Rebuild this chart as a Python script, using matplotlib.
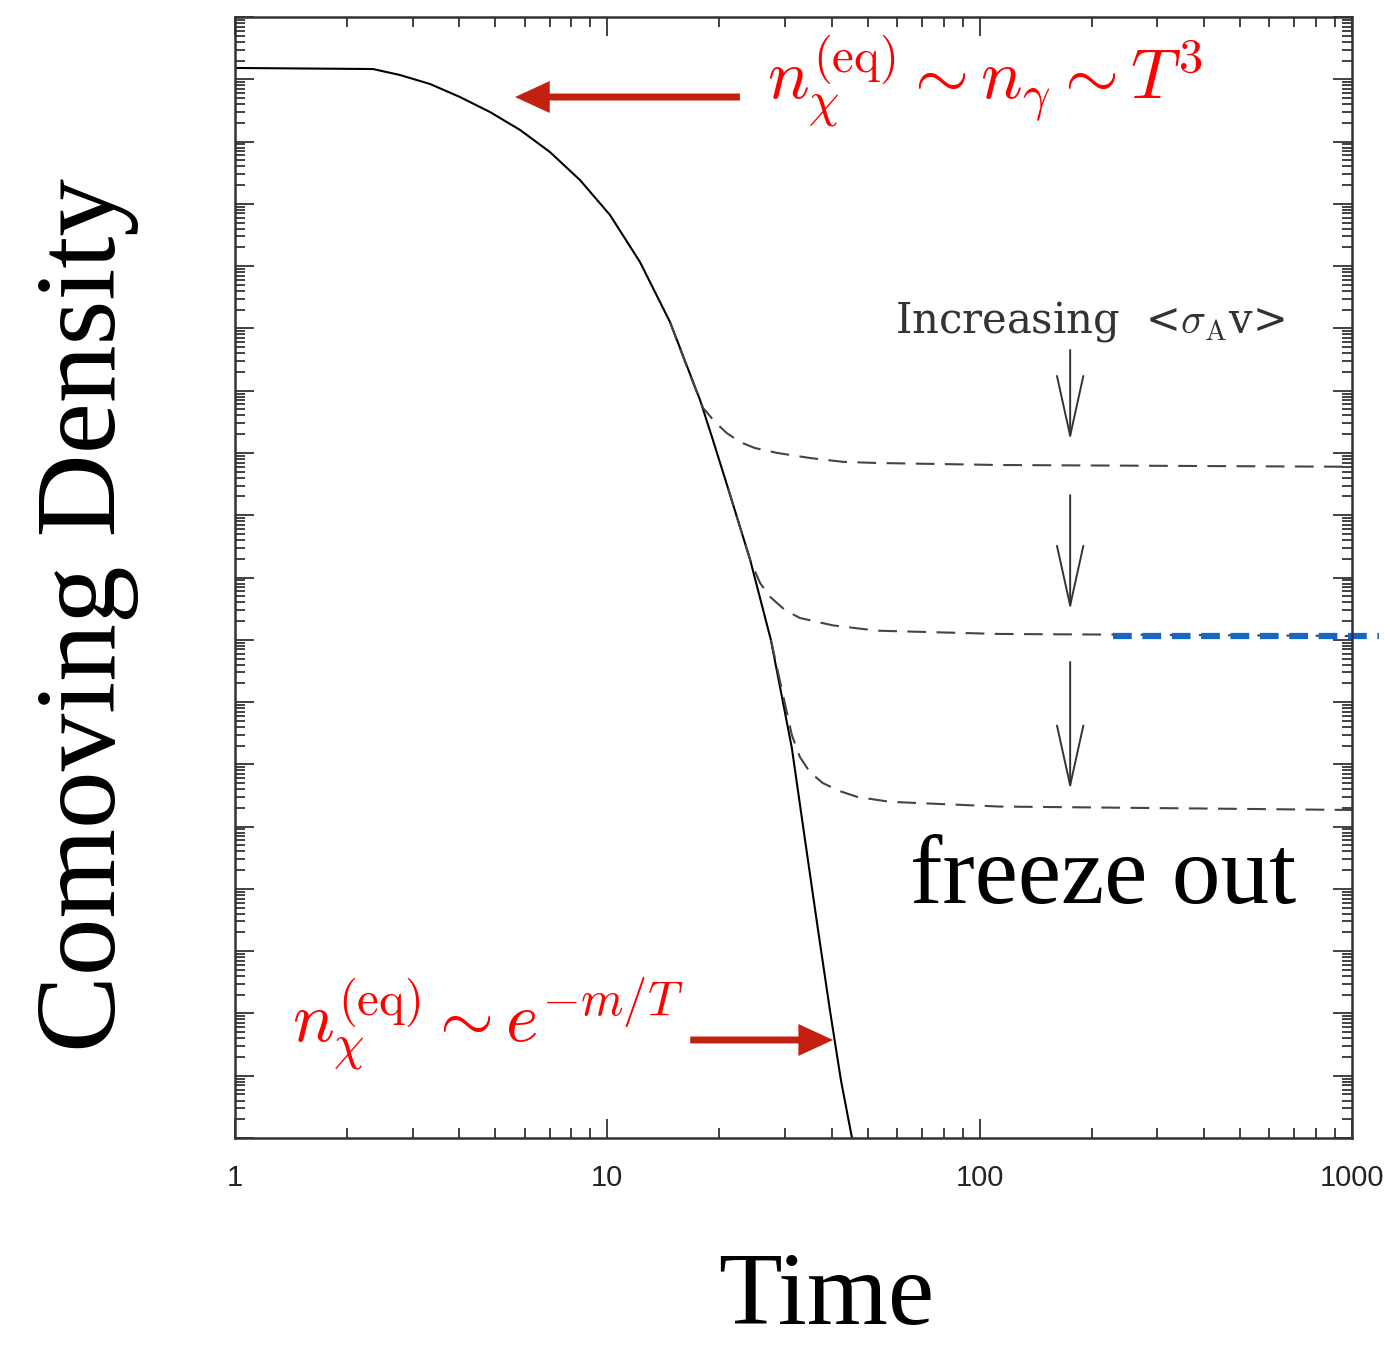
import numpy as np
import matplotlib
matplotlib.use("Agg")
import matplotlib.pyplot as plt
from matplotlib.ticker import LogLocator, FixedLocator, FixedFormatter, NullFormatter

plt.rcParams['mathtext.fontset'] = 'cm'

# ---------------- data ----------------
# equilibrium density (solid)
time_eq = [1.0, 2.35, 2.775, 3.34, 4.02, 4.84, 5.83, 7.01, 8.45, 10.17, 12.24,
           14.73, 17.74, 19.1, 21.1, 24.2, 27.5, 31.3, 33.96, 36.8, 39.6, 42.4, 45.4]
dens_eq = [0.152, 0.146, 0.117, 0.084, 0.0519, 0.0298, 0.01535, 6.8e-3, 2.4e-3,
           6.6e-4, 1.16e-4, 1.27e-5, 7.1e-7, 1.8e-7, 2.7e-8, 1.9e-9, 9.9e-11,
           1.83e-12, 6.1e-14, 2.2e-15, 1.14e-16, 8.5e-18, 1.0e-18]

# freeze-out curves (dashed), smallest <sigma v> first
time_fo1 = [14.73, 16.5, 18.07, 19.46, 20.9, 22.7, 24.9, 28.6, 35.0, 42.9, 53.0, 113, 1000]
dens_fo1 = [1.27e-5, 2.1e-6, 5.3e-7, 3.14e-7, 2.1e-7, 1.5e-7, 1.2e-7, 1.0e-7,
            8.3e-8, 7.2e-8, 6.9e-8, 6.4e-8, 6.0e-8]

time_fo2 = [21.1, 24.2, 25.7, 27.35, 30.0, 32.9, 40.4, 53.0, 113, 1000]
dens_fo2 = [2.7e-8, 1.9e-9, 8.2e-10, 4.9e-10, 3.0e-10, 2.24e-10, 1.7e-10, 1.4e-10,
            1.24e-10, 1.15e-10]

time_fo3 = [27.5, 31.3, 32.9, 35.0, 37.9, 42.2, 46.9, 57.4, 113, 1000]
dens_fo3 = [9.9e-11, 2.96e-12, 1.31e-12, 7.5e-13, 5.0e-13, 3.7e-13, 3.0e-13,
            2.5e-13, 2.1e-13, 1.85e-13]

# highlighted relic level (blue dotted)
time_relic = [228, 1180]
dens_relic = [1.15e-10, 1.15e-10]

x_ticks = [1, 10, 100, 1000]
x_tick_labels = ['1', '10', '100', '1000']

# ---------------- figure ----------------
W, H = 1384, 1346
fig = plt.figure(figsize=(W / 100, H / 100), dpi=100)
ax = fig.add_axes([235 / W, 1 - 1138 / H, (1352 - 235) / W, (1138 - 17) / H])

def fx(px):
    return px / W

def fy(py):
    return 1 - py / H

ax.set_xscale('log')
ax.set_yscale('log')
ax.set_xlim(1, 1000)
ax.set_ylim(1e-18, 1)

ax.plot(time_eq, dens_eq, color='black', lw=1.5, solid_joinstyle='round')
for t, d in [(time_fo1, dens_fo1), (time_fo2, dens_fo2), (time_fo3, dens_fo3)]:
    ax.plot(t, d, color='#444444', lw=1.5, dashes=(9, 5))
ax.plot(time_relic, dens_relic, color='#1467C2', lw=4.5, dashes=(3.0, 1.7),
        clip_on=False)

# ticks
ax.xaxis.set_major_locator(FixedLocator(x_ticks))
ax.xaxis.set_major_formatter(FixedFormatter(x_tick_labels))
ax.xaxis.set_minor_locator(LogLocator(base=10, subs=np.arange(2, 10), numticks=40))
ax.xaxis.set_minor_formatter(NullFormatter())
ax.yaxis.set_major_locator(LogLocator(base=10, numticks=40))
ax.yaxis.set_minor_locator(LogLocator(base=10, subs=np.arange(2, 10), numticks=40))
ax.yaxis.set_major_formatter(NullFormatter())
ax.yaxis.set_minor_formatter(NullFormatter())

ax.tick_params(which='both', direction='in', top=True, right=True,
               color='#333333', width=1.3)
ax.tick_params(which='major', length=14)
ax.tick_params(which='minor', length=7)
ax.tick_params(axis='x', which='major', pad=19, labelsize=21, labelcolor='#222222')
for lab in ax.get_xticklabels():
    lab.set_fontfamily('Liberation Sans')
for sp in ax.spines.values():
    sp.set_linewidth(1.8)
    sp.set_color('#333333')

# red arrows
red_arrow = '#C42010'
ax.annotate('', xy=(5.65, 0.0519), xytext=(22.7, 0.0519),
            arrowprops=dict(arrowstyle='simple,head_length=2.5,head_width=2.3,tail_width=0.5',
                            mutation_scale=10, color=red_arrow, shrinkA=0, shrinkB=0, lw=0))
ax.annotate('', xy=(40.4, 3.75e-17), xytext=(16.7, 3.75e-17),
            arrowprops=dict(arrowstyle='simple,head_length=2.5,head_width=2.3,tail_width=0.5',
                            mutation_scale=10, color=red_arrow, shrinkA=0, shrinkB=0, lw=0))

# black arrows: increasing <sigma v>
for y0, y1 in [(4.5e-6, 1.6e-7), (2.1e-8, 3.0e-10), (4.4e-11, 3.9e-13)]:
    ax.annotate('', xy=(175, y1), xytext=(175, y0),
                arrowprops=dict(arrowstyle='->,head_length=4.3,head_width=0.95',
                                mutation_scale=10, color='#333333', lw=1.4,
                                shrinkA=0, shrinkB=0))

# texts
fig.text(fx(767), fy(100), r'$n_\chi^{(\mathrm{eq})} \sim n_\gamma \sim T^3$',
         color='red', fontsize=50, ha='left', va='baseline')
fig.text(fx(292), fy(1043), r'$n_\chi^{(\mathrm{eq})} \sim e^{-m/T}$',
         color='red', fontsize=50, ha='left', va='baseline')
fig.text(fx(1090), fy(332), r'Increasing  <$\sigma_{\rm A}$v>', family='DejaVu Serif',
         color='#333333', fontsize=30, ha='center', va='baseline')
fig.text(fx(1103), fy(903), 'freeze out', family='Liberation Serif',
         color='black', fontsize=70, ha='center', va='baseline')
fig.text(fx(826), fy(1324), 'Time', family='Liberation Serif',
         color='black', fontsize=75, ha='center', va='baseline')
fig.text(fx(87), fy(615), 'Comoving Density', family='Liberation Serif',
         color='black', fontsize=83, ha='center', va='center', rotation=90)

fig.savefig('out.png', dpi=100)
